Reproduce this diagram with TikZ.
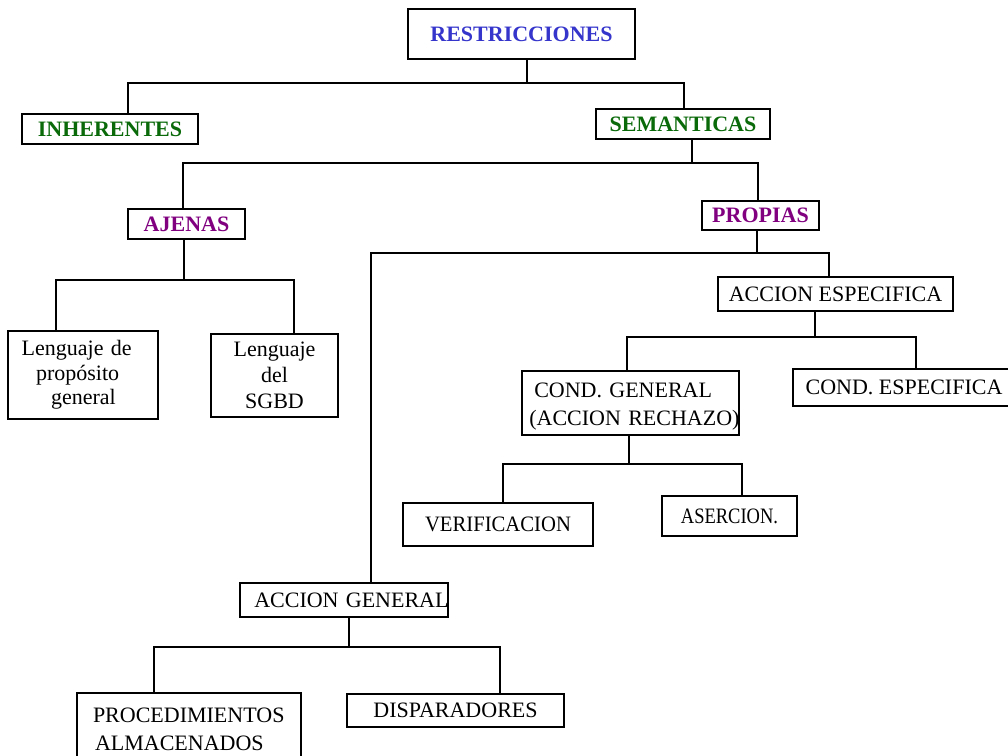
\documentclass[tikz,border=0pt]{standalone}
\usepackage{fontspec}
\setmainfont{Liberation Serif}
\usepackage{graphicx}
\frenchspacing
\definecolor{tblue}{HTML}{3535CC}
\definecolor{tgreen}{HTML}{0A6A0A}
\definecolor{tpurple}{HTML}{800080}
\begin{document}
\begin{tikzpicture}[x=0.75pt,y=-0.75pt,
  box/.style={draw, line width=1.3pt, inner sep=0pt, fill=white,
    font=\fontsize{16.5}{21}\selectfont\frenchspacing},
  wh/.style 2 args={minimum width=#1*0.75pt, minimum height=#2*0.75pt},
  head/.style={font=\fontsize{16.5}{21}\selectfont\bfseries},
  link/.style={line width=1.1pt}]
\clip (0,0) rectangle (1008,756);
\fill[white] (0,0) rectangle (1008,756);

% boxes
\node[box, head, text=tblue, wh={227}{50}] (restr) at (521.5,34) {RESTRICCIONES};
\node[box, head, text=tgreen, wh={176}{30}] (inh) at (110,129) {INHERENTES};
\node[box, head, text=tgreen, wh={174}{30}] (sem) at (683,124) {SEMANTICAS};
\node[box, head, text=tpurple, wh={117}{30}] (ajenas) at (186.5,224) {AJENAS};
\node[box, head, text=tpurple, wh={117}{29}] (propias) at (760.5,215.5) {PROPIAS};

\node[box, font=\fontsize{16.5}{18.5}\selectfont\frenchspacing, text width=112.5pt, align=left, wh={150}{88}] (leng1) at (83,375)
  {\mbox{\hspace*{10.3pt}Lenguaje de}\\\mbox{\hspace*{21pt}propósito}\\\mbox{\hspace*{32.3pt}general}};
\node[box, font=\fontsize{16.5}{19.5}\selectfont, align=center, wh={127}{83}] (leng2) at (274.5,375.5)
  {Lenguaje\\del\\SGBD};

\node[box, wh={235}{34}] (accesp) at (835.5,294) {ACCION ESPECIFICA};
\node[box, text width=162.75pt, align=left, wh={217}{64}] (condgen) at (630.5,403)
  {\mbox{\rule{0pt}{16pt}\hspace*{9.2pt}COND. GENERAL}\\\mbox{\hspace*{5.5pt}(ACCION RECHAZO)}};
\node[box, wh={222}{37}] (condesp) at (904,387.5) {COND. ESPECIFICA};
\node[box, wh={190}{43}] (verif) at (498,524.5) {\scalebox{0.94}[1]{VERIFICACION}};
\node[box, wh={135}{40}] (aserc) at (729.5,516) {\scalebox{0.84}[1]{ASERCION.}};
\node[box, text width=156pt, align=left, wh={208}{34}] (accgen) at (344,600)
  {\mbox{\hspace*{10.7pt}ACCION GENERAL}};
\node[box, text width=168pt, align=left, wh={224}{72}] (proc) at (189,729)
  {\mbox{\hspace*{12pt}PROCEDIMIENTOS}\\\mbox{\hspace*{13.5pt}ALMACENADOS}};
\node[box, wh={217}{33}] (disp) at (455.5,710.5) {DISPARADORES};

% branch points
\coordinate (m1) at (527,83);  \coordinate (l1) at (128,83);  \coordinate (r1) at (684,83);
\coordinate (m2) at (692,163); \coordinate (l2) at (183,163); \coordinate (r2) at (758,163);
\coordinate (m3) at (184,280); \coordinate (l3) at (56,280);  \coordinate (r3) at (294,280);
\coordinate (m4) at (757,253); \coordinate (l4) at (371,253); \coordinate (r4) at (829,253);
\coordinate (m5) at (815,337); \coordinate (l5) at (627,337); \coordinate (r5) at (916,337);
\coordinate (m6) at (629,464); \coordinate (l6) at (503,464); \coordinate (r6) at (742,464);
\coordinate (m7) at (349,647); \coordinate (l7) at (154,647); \coordinate (r7) at (500,647);

% connectors
\draw[link] (restr.south -| m1) -- (m1);
\draw[link] (inh.north -| l1) -- (l1) -- (r1) -- (sem.north -| r1);
\draw[link] (sem.south -| m2) -- (m2);
\draw[link] (ajenas.north -| l2) -- (l2) -- (r2) -- (propias.north -| r2);
\draw[link] (ajenas.south -| m3) -- (m3);
\draw[link] (leng1.north -| l3) -- (l3) -- (r3) -- (leng2.north -| r3);
\draw[link] (propias.south -| m4) -- (m4);
\draw[link] (accgen.north -| l4) -- (l4) -- (r4) -- (accesp.north -| r4);
\draw[link] (accesp.south -| m5) -- (m5);
\draw[link] (condgen.north -| l5) -- (l5) -- (r5) -- (condesp.north -| r5);
\draw[link] (condgen.south -| m6) -- (m6);
\draw[link] (verif.north -| l6) -- (l6) -- (r6) -- (aserc.north -| r6);
\draw[link] (accgen.south -| m7) -- (m7);
\draw[link] (proc.north -| l7) -- (l7) -- (r7) -- (disp.north -| r7);
\end{tikzpicture}
\end{document}
